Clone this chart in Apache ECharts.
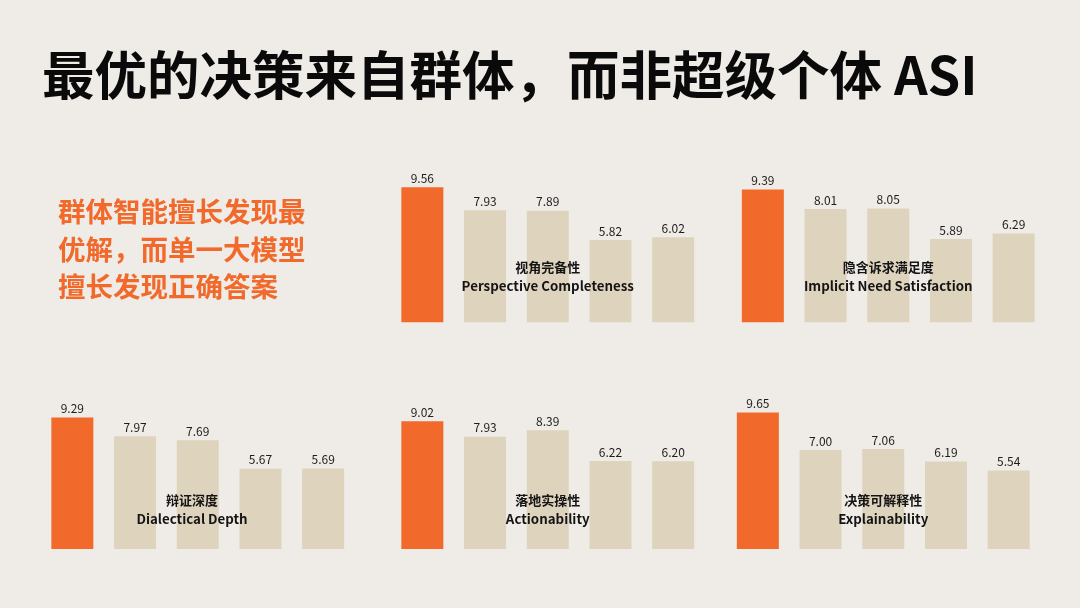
<!DOCTYPE html>
<html>
<head>
<meta charset="utf-8">
<title>最优的决策来自群体</title>
<script src="https://cdn.jsdelivr.net/npm/echarts@6/dist/echarts.min.js"></script>
<style>
  html, body { margin: 0; padding: 0; background: #EFECE7; }
  #chart { width: 1080px; height: 608px; }
</style>
</head>
<body>
<div id="chart"></div>
<script>
// five systems compared on each metric, the first one is the swarm
const systems = ['群体智能', '模型 A', '模型 B', '模型 C', '模型 D']

const metricsZh = ['视角完备性', '隐含诉求满足度', '辩证深度', '落地实操性', '决策可解释性']
const metricsEn = ['Perspective Completeness', 'Implicit Need Satisfaction', 'Dialectical Depth', 'Actionability', 'Explainability']

const perspective = [9.56, 7.93, 7.89, 5.82, 6.02]
const implicitNeed = [9.39, 8.01, 8.05, 5.89, 6.29]
const dialectical = [9.29, 7.97, 7.69, 5.67, 5.69]
const actionability = [9.02, 7.93, 8.39, 6.22, 6.20]
const explainability = [9.65, 7.00, 7.06, 6.19, 5.54]

const seriesValues = [perspective, implicitNeed, dialectical, actionability, explainability]

const ORANGE = '#F26A2B'
const BEIGE = '#DED3BD'
const FONT = '"Noto Sans CJK SC", "Noto Sans", sans-serif'

// panel boxes: left, top, width, height (px), plus where the metric name sits
const panels = [
  { left: 391, top: 181, width: 313.5, height: 141.3, zhY: 267, enY: 285.5 },
  { left: 731.5, top: 181, width: 313.5, height: 141.3, zhY: 267, enY: 285.5 },
  { left: 41, top: 407.5, width: 313.5, height: 141.5, zhY: 500.5, enY: 519.3, labelX: 192 },
  { left: 391, top: 407.5, width: 313.5, height: 141.5, zhY: 500.5, enY: 519.3 },
  { left: 726.5, top: 407.5, width: 313.5, height: 141.5, zhY: 500.5, enY: 519.3 },
]

const grids = panels.map(p => ({ left: p.left, top: p.top, width: p.width, height: p.height }))

const xAxes = panels.map((p, i) => ({
  type: 'category',
  gridIndex: i,
  data: systems,
  show: false,
}))

const yAxes = panels.map((p, i) => ({
  type: 'value',
  gridIndex: i,
  min: 0,
  max: 10,
  show: false,
}))

const series = seriesValues.map((vals, i) => ({
  type: 'bar',
  name: metricsZh[i],
  xAxisIndex: i,
  yAxisIndex: i,
  barCategoryGap: '33%',
  silent: true,
  data: vals.map((v, j) => ({
    value: v,
    itemStyle: { color: j === 0 ? ORANGE : BEIGE },
  })),
  label: {
    show: true,
    position: 'top',
    distance: 3,
    formatter: params => params.value.toFixed(2),
    color: '#1c1c1c',
    fontSize: 12,
    fontFamily: FONT,
  },
}))

const metricLabels = []
panels.forEach((p, i) => {
  const cx = p.labelX || p.left + p.width / 2
  metricLabels.push({
    type: 'text',
    x: cx,
    y: p.zhY,
    z: 10,
    style: {
      text: metricsZh[i],
      textAlign: 'center',
      textVerticalAlign: 'middle',
      font: `bold 13px ${FONT}`,
      fill: '#141414',
    },
  })
  metricLabels.push({
    type: 'text',
    x: cx,
    y: p.enY,
    z: 10,
    style: {
      text: metricsEn[i],
      textAlign: 'center',
      textVerticalAlign: 'middle',
      font: `bold 13.3px ${FONT}`,
      fill: '#141414',
    },
  })
})

const chart = echarts.init(document.getElementById('chart'))
chart.setOption({
  backgroundColor: '#EFECE7',
  animation: false,
  grid: grids,
  xAxis: xAxes,
  yAxis: yAxes,
  series,
  graphic: [
    {
      type: 'text',
      x: 42,
      y: 75,
      style: {
        text: '最优的决策来自群体，而非超级个体 ASI',
        textVerticalAlign: 'middle',
        font: `bold 52.5px ${FONT}`,
        fill: '#0a0a0a',
      },
    },
    {
      type: 'text',
      x: 58,
      y: 193,
      style: {
        text: '群体智能擅长发现最\n优解，而单一大模型\n擅长发现正确答案',
        textVerticalAlign: 'top',
        font: `bold 27.5px ${FONT}`,
        lineHeight: 37.5,
        fill: ORANGE,
      },
    },
    ...metricLabels,
  ],
})
</script>
</body>
</html>
